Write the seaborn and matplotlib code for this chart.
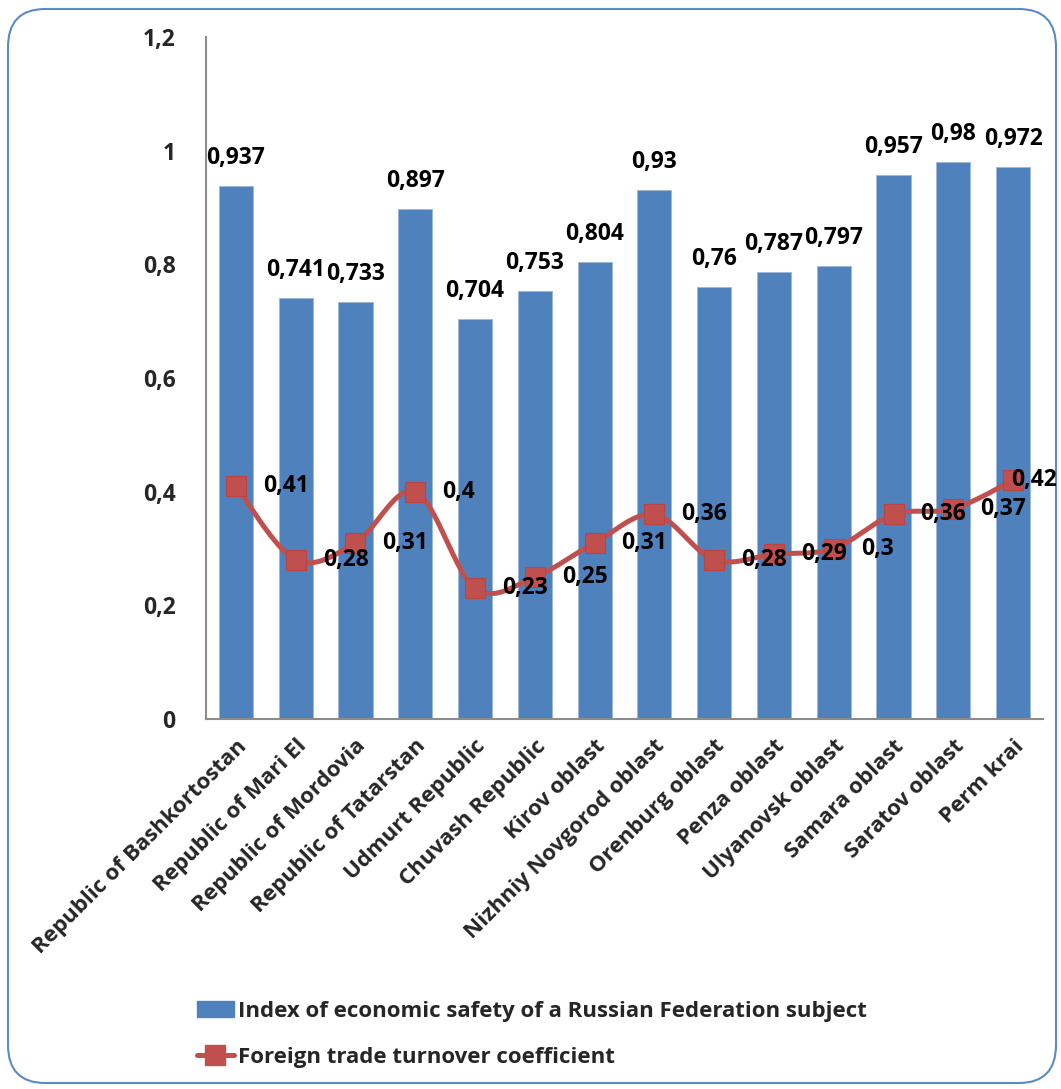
import numpy as np
import pandas as pd
import matplotlib
matplotlib.use("Agg")
import matplotlib.pyplot as plt
import seaborn as sns
from matplotlib.patches import FancyBboxPatch, Patch
from matplotlib.lines import Line2D

regions = ["Republic of Bashkortostan", "Republic of Mari El", "Republic of Mordovia",
           "Republic of Tatarstan", "Udmurt Republic", "Chuvash Republic", "Kirov oblast",
           "Nizhniy Novgorod oblast", "Orenburg oblast", "Penza oblast", "Ulyanovsk oblast",
           "Samara oblast", "Saratov oblast", "Perm krai"]
safety_index = [0.937, 0.741, 0.733, 0.897, 0.704, 0.753, 0.804, 0.93, 0.76, 0.787,
                0.797, 0.957, 0.98, 0.972]
trade_coef = [0.41, 0.28, 0.31, 0.40, 0.23, 0.25, 0.31, 0.36, 0.28, 0.29, 0.30, 0.36,
              0.37, 0.42]
yticks = [0, 0.2, 0.4, 0.6, 0.8, 1.0, 1.2]
ytick_labels = ["0", "0,2", "0,4", "0,6", "0,8", "1", "1,2"]
bar_name = "Index of economic safety of a Russian Federation subject"
line_name = "Foreign trade turnover coefficient"

BLUE = "#4F81BD"
RED = "#C0504D"
FS = 16.5

sns.set_theme(style="white")
plt.rcParams["font.family"] = ["Open Sans", "DejaVu Sans"]
plt.rcParams["font.weight"] = "bold"

fig = plt.figure(figsize=(10.61, 10.89), dpi=100)
W, H = 1061, 1089
ax = fig.add_axes([206 / W, 1 - 719 / H, (1043 - 206) / W, (719 - 37) / H])

df = pd.DataFrame({"region": regions, "value": safety_index})
sns.barplot(data=df, x="region", y="value", color=BLUE, saturation=1, width=0.57,
            ax=ax, edgecolor="#9DB7DA", linewidth=0.6)

fmt = lambda v: f"{v:g}".replace(".", ",")
for i, v in enumerate(safety_index):
    ax.annotate(fmt(v), (i, v), xytext=(0, 28), textcoords="offset pixels",
                ha="center", va="center", fontsize=FS, fontweight="bold", color="black")

# smooth curve (Catmull-Rom style, like Excel smoothing)
x = np.arange(len(trade_coef), dtype=float)
y = np.array(trade_coef, dtype=float)
px, py = [], []
for i in range(len(x) - 1):
    x0, y0 = (x[i - 1], y[i - 1]) if i > 0 else (x[i], y[i])
    x1, y1 = x[i], y[i]
    x2, y2 = x[i + 1], y[i + 1]
    x3, y3 = (x[i + 2], y[i + 2]) if i + 2 < len(x) else (x[i + 1], y[i + 1])
    c1x, c1y = x1 + (x2 - x0) / 6, y1 + (y2 - y0) / 6
    c2x, c2y = x2 - (x3 - x1) / 6, y2 - (y3 - y1) / 6
    t = np.linspace(0, 1, 30)
    bx = (1 - t) ** 3 * x1 + 3 * (1 - t) ** 2 * t * c1x + 3 * (1 - t) * t ** 2 * c2x + t ** 3 * x2
    by = (1 - t) ** 3 * y1 + 3 * (1 - t) ** 2 * t * c1y + 3 * (1 - t) * t ** 2 * c2y + t ** 3 * y2
    px.extend(bx)
    py.extend(by)
ax.plot(px, py, color=RED, lw=3.6, solid_capstyle="round", zorder=3)
ax.plot(x, y, ls="none", marker="s", ms=14, color=RED, mec="#B84541", mew=0.8, zorder=4)
for i, v in enumerate(trade_coef):
    off = 27 if i < len(trade_coef) - 1 else -2
    ax.annotate(fmt(v), (i, v), xytext=(off, 0), textcoords="offset pixels",
                ha="left", va="center", fontsize=FS, fontweight="bold", color="black",
                zorder=5, annotation_clip=False)

ax.set_ylim(0, 1.2)
ax.set_xlim(-0.5, len(regions) - 0.5)
ax.set_yticks(yticks)
ax.set_yticklabels(ytick_labels, fontsize=FS, fontweight="bold")
ax.set_xticks(range(len(regions)))
ax.set_xticklabels(regions, rotation=45, ha="right", rotation_mode="anchor",
                   fontsize=16, fontweight="bold")
ax.tick_params(axis="y", length=0, pad=22)
ax.tick_params(axis="x", length=0, pad=12)
ax.set_xlabel("")
ax.set_ylabel("")
for s in ["top", "right"]:
    ax.spines[s].set_visible(False)
for s in ["left", "bottom"]:
    ax.spines[s].set_color("#8C8C8C")
    ax.spines[s].set_linewidth(1.5)

handles = [Patch(facecolor=BLUE, edgecolor=BLUE),
           Line2D([0], [0], color=RED, lw=3.6, marker="s", ms=14)]
leg = fig.legend(handles, [bar_name, line_name], loc="upper left",
                 bbox_to_anchor=(177 / W, 1 - 981 / H), frameon=False,
                 prop={"size": 16, "weight": "bold"}, handlelength=1.65,
                 handletextpad=0.2, labelspacing=1.12)

border = FancyBboxPatch((8 / W, 6 / H), (1056 - 8) / W, (1080 - 6) / H,
                        boxstyle="round,pad=0,rounding_size=0.035",
                        transform=fig.transFigure, fill=False, edgecolor="#5B8BC6",
                        linewidth=1.5, zorder=-1)
fig.patches.append(border)

fig.savefig("out.png", dpi=100)
